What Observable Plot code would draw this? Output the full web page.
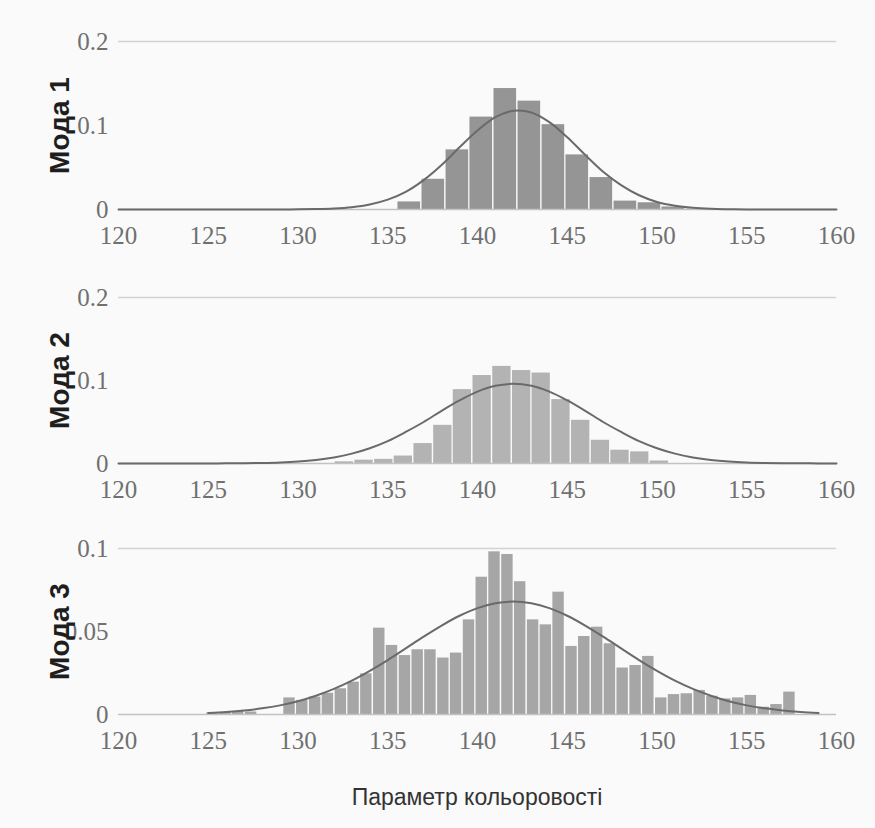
<!DOCTYPE html>
<html>
<head>
<meta charset="utf-8">
<script src="https://cdn.jsdelivr.net/npm/d3@7"></script>
<script src="https://cdn.jsdelivr.net/npm/@observablehq/plot@0.6"></script>
<style>
  body { margin: 0; background: #fafafa; }
  #chart { width: 875px; height: 828px; background: #fafafa; }
  #chart svg { display: block; }
  .xtitle {
    box-sizing: border-box; width: 875px; height: 66px;
    padding: 21px 39px 0 118px; text-align: center;
    font-family: "Liberation Sans", Arial, sans-serif; font-size: 23px; line-height: 28px;
    color: #333;
  }
</style>
</head>
<body>
<div id="chart"></div>
<script>
// ---------- data ----------
const xTicks = [120, 125, 130, 135, 140, 145, 150, 155, 160];
const yTicks12 = [0, 0.1, 0.2];
const yTicks3 = [0, 0.05, 0.1];
const panelLabels = ["Мода 1", "Мода 2", "Мода 3"];
const xTitle = "Параметр кольоровості";

// Mode 1 histogram (bin start, bin width, density)
const mode1BinStart = [135.53, 136.87, 138.21, 139.54, 140.88, 142.22, 143.56, 144.89, 146.23, 147.57, 148.91, 150.24];
const mode1BinWidth = 1.337;
const mode1Value = [0.009, 0.036, 0.071, 0.110, 0.144, 0.129, 0.101, 0.065, 0.038, 0.010, 0.008, 0.003];
// Mode 1 fitted curve
const mode1CurveX = [120,121,122,123,124,125,126,127,128,129,130,131,132,133,134,135,136,137,138,139,140,141,142,143,144,145,146,147,148,149,150,151,152,153,154,155,156,157,158,159,160];
const mode1CurveY = [0,0,0,0,0,0,0,0,0,0,0.0002,0.0005,0.0012,0.0028,0.006,0.0117,0.021,0.035,0.053,0.074,0.094,0.110,0.1175,0.1155,0.104,0.086,0.065,0.045,0.029,0.017,0.009,0.0045,0.002,0.0008,0.0003,0,0,0,0,0,0];

// Mode 2 histogram
const mode2BinStart = [132.03, 133.13, 134.23, 135.32, 136.42, 137.52, 138.61, 139.71, 140.81, 141.91, 143.00, 144.10, 145.20, 146.30, 147.39, 148.49, 149.58];
const mode2BinWidth = 1.097;
const mode2Value = [0.002, 0.004, 0.005, 0.009, 0.024, 0.046, 0.089, 0.106, 0.117, 0.112, 0.109, 0.077, 0.052, 0.028, 0.016, 0.014, 0.003];
// Mode 2 fitted curve
const mode2CurveX = [120,121,122,123,124,125,126,127,128,129,130,131,132,133,134,135,136,137,138,139,140,141,142,143,144,145,146,147,148,149,150,151,152,153,154,155,156,157,158,159,160];
const mode2CurveY = [0,0,0,0,0,0.0001,0.0002,0.0003,0.0006,0.0012,0.0023,0.0042,0.0073,0.0119,0.0184,0.027,0.038,0.050,0.0635,0.076,0.0866,0.0936,0.096,0.0936,0.0866,0.076,0.0635,0.050,0.038,0.027,0.0184,0.0119,0.0073,0.0042,0.0023,0.0012,0.0006,0.0003,0.0002,0.0001,0];

// Mode 3 histogram
const mode3BinStart = [124.88,125.60,126.31,127.03,
  129.17,129.88,130.60,131.31,132.03,132.74,133.45,134.17,134.88,135.60,
  136.31,137.02,137.74,138.45,139.17,139.88,140.59,141.31,142.02,142.74,
  143.45,144.16,144.88,145.59,146.31,147.02,147.73,148.45,149.16,149.88,
  150.59,151.30,152.02,152.73,153.45,154.16,154.87,155.59,156.30,157.02];
const mode3BinWidth = 0.714;
const mode3Value = [0.001,0.0012,0.0018,0.0015,
  0.010,0.0085,0.0105,0.0128,0.0155,0.0195,0.0245,0.052,0.0416,0.0355,
  0.039,0.039,0.034,0.037,0.057,0.0827,0.098,0.0964,0.080,0.057,
  0.054,0.0737,0.041,0.047,0.0526,0.0426,0.028,0.0295,0.035,0.010,
  0.012,0.0125,0.0145,0.011,0.0094,0.010,0.0115,0.0044,0.006,0.0135];
// Mode 3 fitted curve
const mode3CurveX = [125,126,127,128,129,130,131,132,133,134,135,136,137,138,139,140,141,142,143,144,145,146,147,148,149,150,151,152,153,154,155,156,157,158,159];
const mode3CurveY = [0.0009,0.0015,0.0024,0.0037,0.0055,0.008,0.0113,0.0154,0.0204,0.0263,0.0328,0.0398,0.0469,0.0536,0.0595,0.0641,0.067,0.068,0.067,0.0641,0.0595,0.0536,0.0469,0.0398,0.0328,0.0263,0.0204,0.0154,0.0113,0.008,0.0055,0.0037,0.0024,0.0015,0.0009];

// ---------- drawing ----------
function panel(o) {
  const bins = o.binStart.map((s, i) => ({x1: s, x2: s + o.binWidth, y: o.values[i]}));
  const curve = o.curveX.map((x, i) => ({x, y: o.curveY[i]}));
  return Plot.plot({
    width: 875, height: o.height,
    marginTop: o.marginTop, marginBottom: o.marginBottom,
    marginLeft: 118, marginRight: 39,
    style: {background: "transparent", fontFamily: "'Liberation Serif', 'Times New Roman', serif", fontSize: "25px", color: "#707070"},
    x: {domain: [120, 160]},
    y: {domain: [0, o.yMax]},
    marks: [
      Plot.ruleY([o.yMax], {stroke: "#d2d2d2", strokeWidth: 1.5}),
      Plot.rectY(bins, {x1: "x1", x2: "x2", y: "y", fill: o.fill, insetLeft: 0.7, insetRight: 0.7}),
      Plot.ruleY([0], {stroke: "#c2c2c2", strokeWidth: 1.5}),
      Plot.line(curve, {x: "x", y: "y", stroke: "#6a6a6a", strokeWidth: 2, curve: "catmull-rom"}),
      Plot.axisX({ticks: xTicks, tickSize: 0, tickPadding: 17, tickFormat: d => String(d), label: null}),
      Plot.axisY({ticks: o.yTicks, tickSize: 0, tickPadding: 10, tickFormat: d => String(d), label: null}),
      Plot.text([o.label], {text: d => d, frameAnchor: "left", textAnchor: "middle", dx: -58, rotate: -90,
        fontSize: 28, fontWeight: "bold", fontFamily: "'Liberation Sans', Arial, sans-serif", fill: "#1e1e1e"})
    ]
  });
}

const chart = document.getElementById("chart");
chart.append(panel({binStart: mode1BinStart, binWidth: mode1BinWidth, values: mode1Value,
  curveX: mode1CurveX, curveY: mode1CurveY, yMax: 0.2, yTicks: yTicks12, label: panelLabels[0],
  height: 256, marginTop: 41, marginBottom: 47, fill: "#959595"}));
chart.append(panel({binStart: mode2BinStart, binWidth: mode2BinWidth, values: mode2Value,
  curveX: mode2CurveX, curveY: mode2CurveY, yMax: 0.2, yTicks: yTicks12, label: panelLabels[1],
  height: 256, marginTop: 41, marginBottom: 49, fill: "#b3b3b3"}));
chart.append(panel({binStart: mode3BinStart, binWidth: mode3BinWidth, values: mode3Value,
  curveX: mode3CurveX, curveY: mode3CurveY, yMax: 0.1, yTicks: yTicks3, label: panelLabels[2],
  height: 250, marginTop: 36, marginBottom: 48, fill: "#a6a6a6"}));
const t = document.createElement("div");
t.className = "xtitle";
t.textContent = xTitle;
chart.append(t);
</script>
</body>
</html>
